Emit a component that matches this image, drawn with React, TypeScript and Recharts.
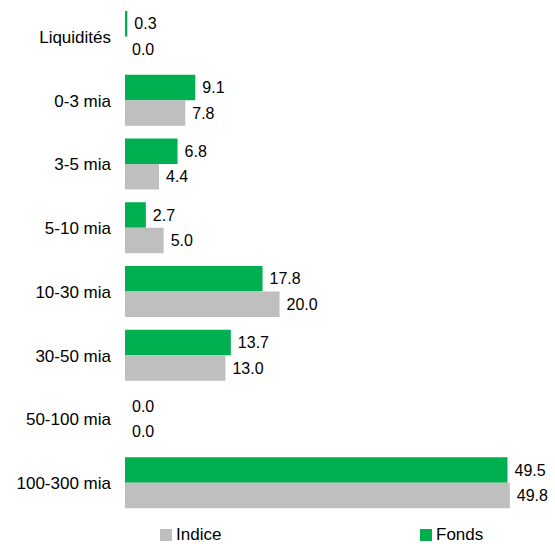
import React from "react";
import { BarChart, Bar, XAxis, YAxis, LabelList } from "recharts";

const categories = ["Liquidités", "0-3 mia", "3-5 mia", "5-10 mia", "10-30 mia", "30-50 mia", "50-100 mia", "100-300 mia"];
const fonds = [0.3, 9.1, 6.8, 2.7, 17.8, 13.7, 0.0, 49.5];
const indice = [0.0, 7.8, 4.4, 5.0, 20.0, 13.0, 0.0, 49.8];

const GREEN = "#00B050";
const GRAY = "#BFBFBF";
const FONT = "'Liberation Sans', Arial, sans-serif";

const data = categories.map((name, i) => ({ name, fonds: fonds[i], indice: indice[i] }));

const fmt = (v: any) => Number(v).toFixed(1);

function LegendItem({ left, color, label }: { left: number; color: string; label: string }) {
  return (
    <div style={{ position: "absolute", left, top: 526, height: 18, display: "flex", alignItems: "center" }}>
      <div style={{ width: 12, height: 12, background: color, marginRight: 4 }} />
      <span style={{ fontSize: 17, lineHeight: "18px", color: "#000", fontFamily: FONT }}>{label}</span>
    </div>
  );
}

const labelStyle = { fill: "#000", fontSize: 16, fontFamily: FONT };

export default function App() {
  return (
    <div style={{ position: "relative", width: 555, height: 544, background: "#fff", fontFamily: FONT, overflow: "hidden" }}>
      <style>{`body{margin:0}`}</style>
      <BarChart
        width={555}
        height={544}
        data={data}
        layout="vertical"
        margin={{ top: 5, right: 5, left: 0, bottom: 29 }}
        barGap={0}
      >
        <XAxis type="number" domain={[0, 55]} hide />
        <YAxis
          type="category"
          dataKey="name"
          width={125}
          axisLine={false}
          tickLine={false}
          tickMargin={8}
          tick={{ fill: "#000", fontSize: 17, fontFamily: FONT }}
        />
        <Bar dataKey="fonds" fill={GREEN} barSize={25.5} minPointSize={0.01} isAnimationActive={false}>
          <LabelList dataKey="fonds" position="right" offset={7} formatter={fmt} style={labelStyle} />
        </Bar>
        <Bar dataKey="indice" fill={GRAY} barSize={25.5} minPointSize={0.01} isAnimationActive={false}>
          <LabelList dataKey="indice" position="right" offset={7} formatter={fmt} style={labelStyle} />
        </Bar>
      </BarChart>
      <LegendItem left={160} color={GRAY} label="Indice" />
      <LegendItem left={420} color={GREEN} label="Fonds" />
    </div>
  );
}
